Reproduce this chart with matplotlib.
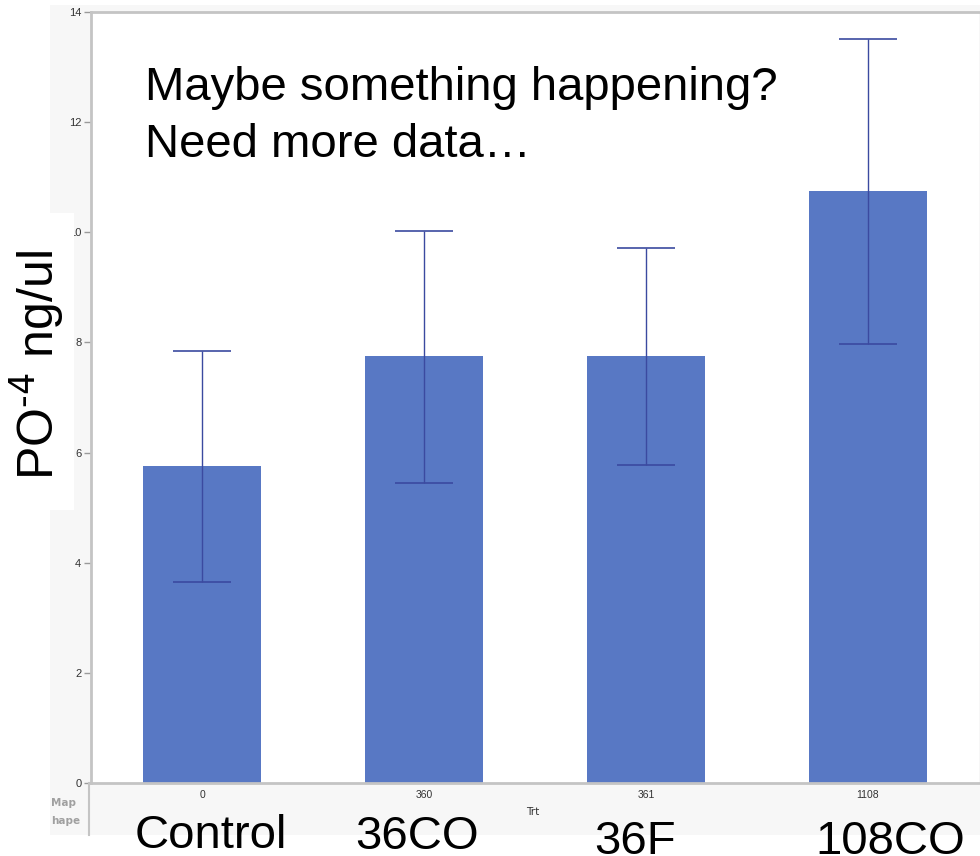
"""JMP-style bar chart of PO-4 concentration by treatment."""

import matplotlib

matplotlib.use("Agg")
import matplotlib.pyplot as plt
from matplotlib.patches import Rectangle
from matplotlib.lines import Line2D
import numpy as np

# data
codes = ["0", "360", "361", "1108"]
names = ["Control", "36CO", "36F", "108CO"]
means = [5.76, 7.75, 7.75, 10.75]
upper = [7.84, 10.02, 9.71, 13.51]
lower = [3.65, 5.45, 5.77, 7.97]
yticks = [0, 2, 4, 6, 8, 10, 12, 14]
note = ["Maybe something happening?", "Need more data\u2026"]

W, H = 980, 856
plt.rcParams["font.family"] = ["Liberation Sans", "DejaVu Sans"]
plt.rcParams["mathtext.default"] = "regular"

fig = plt.figure(figsize=(W / 100, H / 100), dpi=100)


def fx(px):
    return px / W


def fy(py):
    return 1 - py / H


# grey report panel behind the plot
fig.patches.append(Rectangle((fx(50), fy(835)), fx(930), 830 / H,
                             transform=fig.transFigure, facecolor="#f7f7f7",
                             edgecolor="none", zorder=-1))

ax = fig.add_axes([fx(91), fy(783), fx(888), 771 / H])
ax.set_facecolor("white")

x = np.arange(len(codes))
m = np.array(means)
err = [m - np.array(lower), np.array(upper) - m]
ax.bar(x, m, width=0.53, color="#5878c4", zorder=2)
ax.errorbar(x, m, yerr=err, fmt="none", ecolor="#3b4aa0", elinewidth=1,
            capsize=21, capthick=1.2, zorder=3)

ax.set_xlim(-0.5, len(codes) - 0.5)
ax.set_ylim(0, 14)
ax.set_yticks(yticks)
ax.tick_params(axis="y", labelsize=8, colors="#9a9a9a", labelcolor="#333333",
               length=5, width=1, pad=2)
ax.set_xticks(x)
ax.set_xticklabels(codes)
ax.tick_params(axis="x", labelsize=7.5, length=0, pad=5, labelcolor="#333333")

for side in ["left", "bottom", "top"]:
    ax.spines[side].set_color("#c4c4c4")
    ax.spines[side].set_linewidth(2)
ax.spines["right"].set_visible(False)

# separator continuing down through the label strip
fig.lines.append(Line2D([fx(89), fx(89)], [fy(783), fy(835)],
                        transform=fig.transFigure, color="#c4c4c4", lw=1.5))

fig.text(fx(533), fy(815), "Trt", fontsize=7.5, color="#333333",
         family="DejaVu Sans", ha="center")
fig.text(fx(51), fy(806), "Map", fontsize=7.5, color="#a0a0a0",
         fontweight="bold", family="DejaVu Sans")
fig.text(fx(51), fy(824), "hape", fontsize=7.5, color="#a0a0a0",
         fontweight="bold", family="DejaVu Sans")

# big treatment names pasted on top
name_offsets = [0.04, -0.03, -0.05, 0.1]
name_base = [-0.084, -0.086, -0.092, -0.092]
for i, nm in enumerate(names):
    ax.text(x[i] + name_offsets[i], name_base[i], nm, fontsize=34,
            ha="center", va="baseline", transform=ax.get_xaxis_transform(),
            clip_on=False)

# white box behind the y label (hides part of the "10" tick label)
fig.patches.append(Rectangle((0, fy(510)), fx(74), 297 / H,
                             transform=fig.transFigure, facecolor="white",
                             edgecolor="none", zorder=2))
fig.text(fx(37), fy(365), r"PO$^{\text{-4}}$ ng/ul", fontsize=36, rotation=90,
         ha="center", va="center", zorder=3)

for line, base in zip(note, [100, 157]):
    fig.text(fx(145), fy(base), line, fontsize=34, ha="left", va="baseline")

fig.savefig("out.png", dpi=100)
